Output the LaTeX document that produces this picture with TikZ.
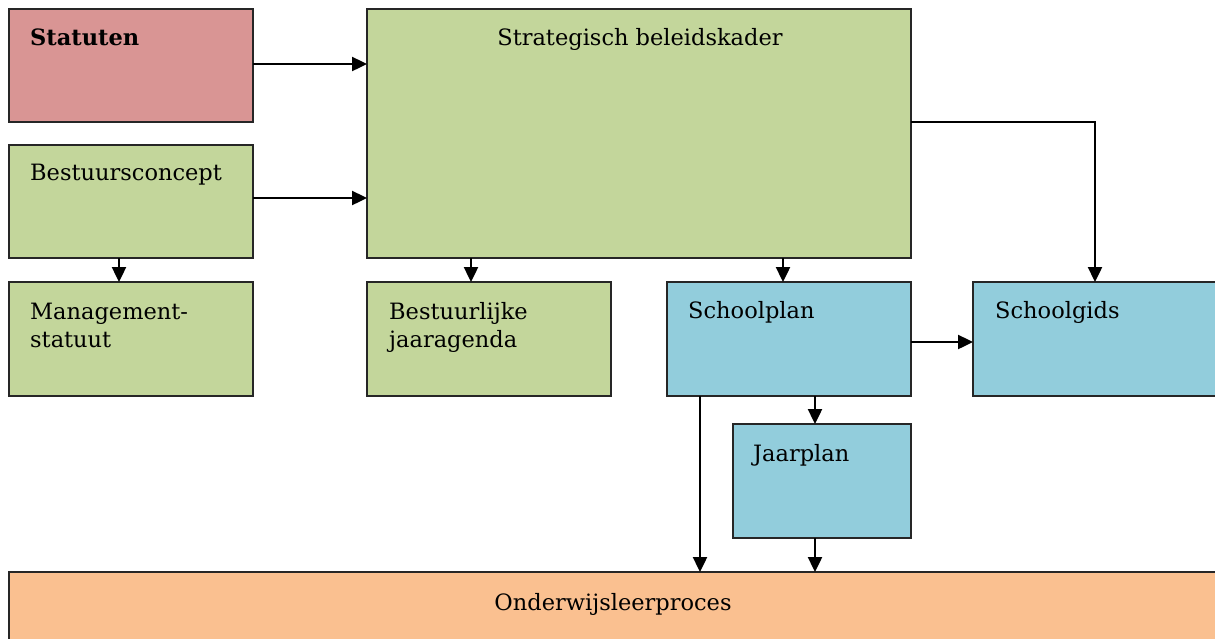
\documentclass[tikz,border=0pt]{standalone}
\usepackage{fontspec}
\setmainfont{DejaVu Serif}
\usetikzlibrary{arrows.meta}
\definecolor{cred}{HTML}{D99594}
\definecolor{cgreen}{HTML}{C3D69B}
\definecolor{cblue}{HTML}{92CDDC}
\definecolor{corange}{HTML}{FAC090}
\begin{document}
\begin{tikzpicture}[x=1pt,y=-1pt,
  box/.style={draw=black!85, line width=1.7pt, anchor=north west, inner sep=0pt, outer sep=0pt},
  lbl/.style={anchor=base west, inner sep=0pt, align=left, font=\fontsize{22.5}{28}\selectfont},
  clbl/.style={anchor=base, inner sep=0pt, font=\fontsize{22.5}{28}\selectfont},
  arr/.style={line width=2.4pt, -{Triangle[length=15pt,width=14pt]}}]
\useasboundingbox (0,0) rectangle (1215,638);
\clip (0,0) rectangle (1215,638);
% boxes
\node[box, fill=cred,    minimum width=244pt, minimum height=113pt] (stat)  at (9,9) {};
\node[box, fill=cgreen,  minimum width=244pt, minimum height=113pt] (best)  at (9,145) {};
\node[box, fill=cgreen,  minimum width=544pt, minimum height=249pt] (strat) at (367,9) {};
\node[box, fill=cgreen,  minimum width=244pt, minimum height=114pt] (mgmt)  at (9,282) {};
\node[box, fill=cgreen,  minimum width=244pt, minimum height=114pt] (bja)   at (367,282) {};
\node[box, fill=cblue,   minimum width=244pt, minimum height=114pt] (sp)    at (667,282) {};
\node[box, fill=cblue,   minimum width=250pt, minimum height=114pt] (sg)    at (973,282) {};
\node[box, fill=cblue,   minimum width=178pt, minimum height=114pt] (jp)    at (733,424) {};
\node[box, fill=corange, minimum width=1220pt, minimum height=80pt] (ow)    at (9,572) {};
% labels
\node[lbl, font=\fontsize{22.5}{28}\selectfont\bfseries] (tstat) at (30,45) {Statuten};
\node[clbl] (tstrat) at (640,45) {Strategisch beleidskader};
\node[lbl] (tbest) at (30,180) {Bestuursconcept};
\node[lbl] (tmgmt) at (30,347) {Management-\\statuut};
\node[lbl] (tbja) at (389,347) {Bestuurlijke\\jaaragenda};
\node[lbl] (tsp) at (688,318) {Schoolplan};
\node[lbl] (tsg) at (995,318) {Schoolgids};
\node[lbl] (tjp) at (753,461) {Jaarplan};
\node[clbl] (tow) at (613,610) {Onderwijsleerproces};
% connectors
\draw[arr] ([yshift=1.5pt]stat.east) -- ([yshift=1.5pt]stat.east -| strat.west);
\draw[arr] ([yshift=3.5pt]best.east) -- ([yshift=3.5pt]best.east -| strat.west);
\draw[arr] ([xshift=-12pt]best.south) -- ([xshift=-12pt]best.south |- mgmt.north);
\draw[arr] ([xshift=104pt]strat.south west) -- ([xshift=104pt]strat.south west |- bja.north);
\draw[arr] ([xshift=416pt]strat.south west) -- ([xshift=416pt]strat.south west |- sp.north);
\draw[arr] ([yshift=-113pt]strat.north east) -| ([xshift=122pt]sg.north west);
\draw[arr] ([yshift=-3pt]sp.east) -- ([yshift=-3pt]sp.east -| sg.west);
\draw[arr] ([xshift=-7pt]jp.north |- sp.south) -- ([xshift=-7pt]jp.north);
\draw[arr] ([xshift=33pt]sp.south west) -- ([xshift=33pt]sp.south west |- ow.north);
\draw[arr] ([xshift=-7pt]jp.south) -- ([xshift=-7pt]jp.south |- ow.north);
\end{tikzpicture}
\end{document}
